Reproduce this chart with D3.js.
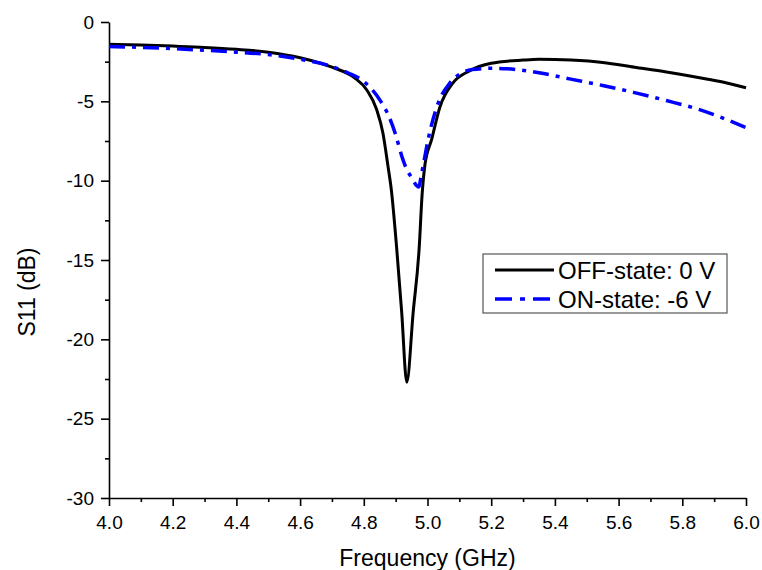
<!DOCTYPE html>
<html>
<head>
<meta charset="utf-8">
<script src="https://cdn.jsdelivr.net/npm/d3@7"></script>
<style>
  body { margin: 0; background: #fff; }
  text { font-family: "Liberation Sans", Arial, sans-serif; fill: #000; }
</style>
</head>
<body>
<div id="chart"></div>
<script>
// Plot constants
const W = 762, H = 570;
const MARGIN = {LEFT: 109, RIGHT: 16, TOP: 22, BOTTOM: 72};

// Data
const offFreq = [4.00, 4.10, 4.20, 4.30, 4.40, 4.50, 4.60, 4.70, 4.77, 4.81, 4.84, 4.86, 4.876, 4.886,
  4.903, 4.919, 4.935, 4.955, 4.974, 4.983, 4.992, 5.013, 5.039, 5.08, 5.13, 5.20, 5.30, 5.35,
  5.45, 5.55, 5.65, 5.75, 5.85, 5.93, 6.00];
const offS11 = [-1.40, -1.45, -1.52, -1.60, -1.72, -1.90, -2.25, -2.85, -3.5, -4.3, -5.5, -7.0, -9.1, -10.5,
  -14.2, -18.3, -22.7, -18.3, -14.2, -10.9, -9.0, -7.4, -5.36, -3.84, -3.1, -2.6, -2.4, -2.35,
  -2.4, -2.55, -2.85, -3.15, -3.5, -3.8, -4.15];

const onFreq = [4.00, 4.10, 4.20, 4.30, 4.40, 4.50, 4.60, 4.70, 4.75, 4.80, 4.85, 4.88, 4.90, 4.92,
  4.935, 4.95, 4.965, 4.972, 4.982, 5.003, 5.03, 5.07, 5.10, 5.14, 5.20, 5.25, 5.35, 5.45, 5.55,
  5.65, 5.75, 5.85, 5.92, 6.00];
const onS11 = [-1.55, -1.60, -1.68, -1.78, -1.90, -2.05, -2.35, -2.80, -3.2, -3.75, -4.9, -6.0, -7.1, -8.5,
  -9.3, -9.8, -10.3, -10.4, -9.5, -7.3, -5.3, -3.85, -3.3, -3.0, -2.92, -2.95, -3.2, -3.6, -4.0,
  -4.45, -4.95, -5.5, -6.0, -6.65];

const xTicks = [4.0, 4.2, 4.4, 4.6, 4.8, 5.0, 5.2, 5.4, 5.6, 5.8, 6.0];
const yTicks = [0, -5, -10, -15, -20, -25, -30];
const seriesNames = ["OFF-state: 0 V", "ON-state: -6 V"];

const svg = d3.select("#chart").append("svg")
  .attr("width", W).attr("height", H);

const x = d3.scaleLinear().domain([4, 6]).range([MARGIN.LEFT, W - MARGIN.RIGHT]);
const y = d3.scaleLinear().domain([-30, 0]).range([H - MARGIN.BOTTOM, MARGIN.TOP]);

// minor ticks sit halfway between majors
const xMinor = d3.range(4.1, 6.0, 0.2);
const yMinor = d3.range(-27.5, 0, 5);

svg.append("g")
  .attr("transform", "translate(0," + y(-30) + ")")
  .call(d3.axisBottom(x).tickValues(xTicks).tickFormat(d => d.toFixed(1))
    .tickSizeInner(8).tickSizeOuter(0).tickPadding(10));
svg.append("g")
  .attr("transform", "translate(0," + y(-30) + ")")
  .call(d3.axisBottom(x).tickValues(xMinor).tickFormat("").tickSizeInner(4).tickSizeOuter(0))
  .select(".domain").remove();

svg.append("g")
  .attr("transform", "translate(" + x(4) + ",0)")
  .call(d3.axisLeft(y).tickValues(yTicks).tickFormat(d => String(d))  // plain hyphen, not U+2212
    .tickSizeInner(8).tickSizeOuter(0).tickPadding(7));
svg.append("g")
  .attr("transform", "translate(" + x(4) + ",0)")
  .call(d3.axisLeft(y).tickValues(yMinor).tickFormat("").tickSizeInner(4).tickSizeOuter(0))
  .select(".domain").remove();

svg.selectAll(".domain, .tick line").attr("stroke", "#000").attr("stroke-width", 1.6);
svg.selectAll(".tick text").style("font-size", "19px").attr("fill", "#000");

// axis titles
svg.append("text")
  .attr("x", (x(4) + x(6)) / 2)
  .attr("y", 566)
  .attr("text-anchor", "middle")
  .style("font-size", "23px")
  .text("Frequency (GHz)");

svg.append("text")
  .attr("transform", "translate(35,292) rotate(-90)")
  .attr("text-anchor", "middle")
  .style("font-size", "23px")
  .text("S11 (dB)");

const line = d3.line()
  .x(d => x(d[0]))
  .y(d => y(d[1]))
  .curve(d3.curveMonotoneX);

const offData = d3.zip(offFreq, offS11);
const onData = d3.zip(onFreq, onS11);

svg.append("path")
  .attr("d", line(offData))
  .attr("fill", "none")
  .attr("stroke", "#000")
  .attr("stroke-width", 3);

svg.append("path")
  .attr("d", line(onData))
  .attr("fill", "none")
  .attr("stroke", "#0000ff")
  .attr("stroke-width", 3.5)
  .attr("stroke-dasharray", "16,7,4,7");

// Legend
const legend = svg.append("g").attr("transform", "translate(483,254)");
legend.append("rect")
  .attr("width", 244).attr("height", 59)
  .attr("fill", "#fff")
  .attr("stroke", "#555").attr("stroke-width", 1.2);

const styles = [
  {stroke: "#000", width: 3, dash: null},
  {stroke: "#0000ff", width: 3.5, dash: "17,8,5,8"}
];
seriesNames.forEach((name, i) => {
  const ly = 16 + i * 29;
  legend.append("line")
    .attr("x1", 12).attr("x2", 71)
    .attr("y1", ly).attr("y2", ly)
    .attr("stroke", styles[i].stroke)
    .attr("stroke-width", styles[i].width)
    .attr("stroke-dasharray", styles[i].dash);
  legend.append("text")
    .attr("x", 75).attr("y", ly)
    .attr("dy", "0.36em")
    .style("font-size", "24px")
    .text(name);
});
</script>
</body>
</html>
